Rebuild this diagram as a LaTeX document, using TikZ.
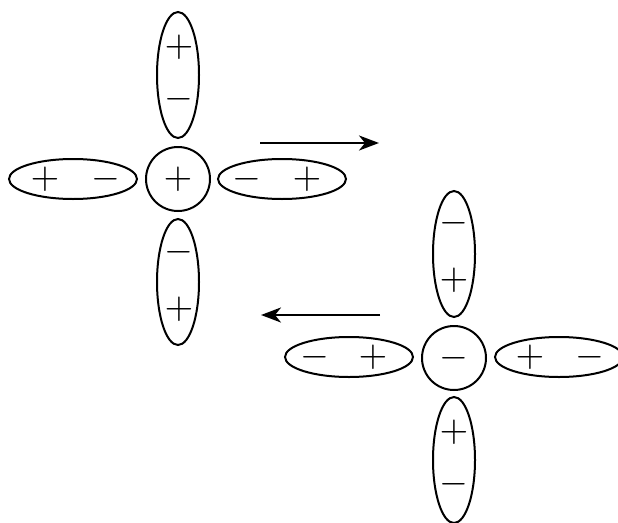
\documentclass[tikz,border=0pt]{standalone}
\usetikzlibrary{shapes.geometric,arrows.meta}
\newcommand{\chg}[1]{\scalebox{3.7}{$#1$}}
\begin{document}
\begin{tikzpicture}[x=1pt,y=-1pt,
  lobev/.style={draw,ellipse,line width=2pt,minimum width=42pt,minimum height=126pt,inner sep=0pt},
  lobeh/.style={draw,ellipse,line width=2pt,minimum width=128pt,minimum height=40pt,inner sep=0pt},
  core/.style={draw,circle,line width=2pt,minimum size=64pt,inner sep=0pt},
  sgn/.style={inner sep=0pt},
  flow/.style={line width=2.6pt,-{Stealth[length=20pt,width=15pt,inset=6pt]}}]
\useasboundingbox (0,0) rectangle (618,522);
\clip (0,0) rectangle (618,522);

% positive ion with its four dipoles
\node[core]  (ac) at (178,179) {};
\node[lobev] (at) at (178,75)  {};
\node[lobev] (ab) at (178,282) {};
\node[lobeh] (al) at (73,179)  {};
\node[lobeh] (ar) at (282,179) {};
\node[sgn] (acs)  at (178,179) {\chg{+}};
\node[sgn] (at1)  at (179,47)  {\chg{+}};
\node[sgn] (at2)  at (179,99)  {\chg{-}};
\node[sgn] (ab1)  at (179,252) {\chg{-}};
\node[sgn] (ab2)  at (179,309) {\chg{+}};
\node[sgn] (al1)  at (45,179)  {\chg{+}};
\node[sgn] (al2)  at (106,179) {\chg{-}};
\node[sgn] (ar1)  at (247,179) {\chg{-}};
\node[sgn] (ar2)  at (307,179) {\chg{+}};

% negative ion with its four dipoles
\node[core]  (bc) at (454,358) {};
\node[lobev] (bt) at (454,254) {};
\node[lobev] (bb) at (454,460) {};
\node[lobeh] (bl) at (349,357) {};
\node[lobeh] (br) at (559,357) {};
\node[sgn] (bcs)  at (454,358) {\chg{-}};
\node[sgn] (bt1)  at (454,223) {\chg{-}};
\node[sgn] (bt2)  at (454,280) {\chg{+}};
\node[sgn] (bb1)  at (454,432) {\chg{+}};
\node[sgn] (bb2)  at (454,484) {\chg{-}};
\node[sgn] (bl1)  at (315,357) {\chg{-}};
\node[sgn] (bl2)  at (373,357) {\chg{+}};
\node[sgn] (br1)  at (530,357) {\chg{+}};
\node[sgn] (br2)  at (590,357) {\chg{-}};

% direction arrows
\coordinate (f1s) at (260,143);
\coordinate (f1e) at (379,143);
\coordinate (f2s) at (380,315);
\coordinate (f2e) at (261,315);
\draw[flow] (f1s) -- (f1e);
\draw[flow] (f2s) -- (f2e);
\end{tikzpicture}
\end{document}
